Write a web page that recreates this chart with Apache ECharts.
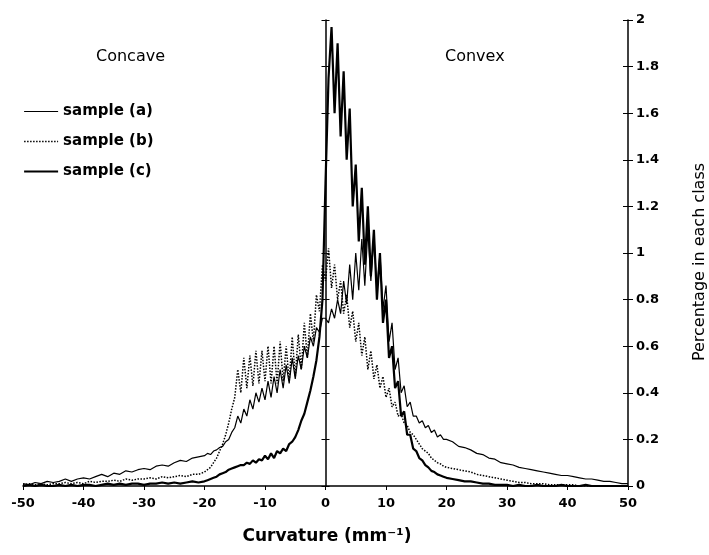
<!DOCTYPE html>
<html>
<head>
<meta charset="utf-8">
<script src="https://cdn.jsdelivr.net/npm/echarts@6/dist/echarts.min.js"></script>
<style>
  html, body { margin: 0; padding: 0; background: #fff; }
  #chart { width: 709px; height: 555px; }
</style>
</head>
<body>
<div id="chart"></div>
<script>
// curvature classes (mm^-1)
const curvature = [
  -50, -49, -48, -47, -46, -45, -44, -43, -42, -41,
  -40, -39, -38, -37, -36, -35, -34, -33, -32, -31,
  -30, -29, -28, -27, -26, -25, -24, -23, -22, -21,
  -20, -19.5, -19, -18.5, -18, -17.5, -17, -16.5, -16, -15.5,
  -15, -14.5, -14, -13.5, -13, -12.5, -12, -11.5, -11, -10.5,
  -10, -9.5, -9, -8.5, -8, -7.5, -7, -6.5, -6, -5.5,
  -5, -4.5, -4, -3.5, -3, -2.5, -2, -1.5, -1, -0.5,
  0, 0.5, 1, 1.5, 2, 2.5, 3, 3.5, 4, 4.5,
  5, 5.5, 6, 6.5, 7, 7.5, 8, 8.5, 9, 9.5,
  10, 10.5, 11, 11.5, 12, 12.5, 13, 13.5, 14, 14.5,
  15, 15.5, 16, 16.5, 17, 17.5, 18, 18.5, 19, 19.5,
  20,
  21, 22, 23, 24, 25, 26, 27, 28, 29, 30,
  31, 32, 33, 34, 35, 36, 37, 38, 39, 40,
  41, 42, 43, 44, 45, 46, 47, 48, 49, 50
];

// percentage in each class
const sampleA = [
  0.01, 0.005, 0.015, 0.01, 0.02, 0.015, 0.02, 0.03, 0.02, 0.03,
  0.035, 0.03, 0.04, 0.05, 0.04, 0.055, 0.05, 0.065, 0.06, 0.07,
  0.075, 0.07, 0.085, 0.09, 0.085, 0.1, 0.11, 0.105, 0.12, 0.125,
  0.13, 0.14, 0.135, 0.15, 0.155, 0.165, 0.17, 0.19, 0.2, 0.23,
  0.25, 0.3, 0.27, 0.33, 0.3, 0.37, 0.33, 0.4, 0.36, 0.42,
  0.37, 0.45, 0.38, 0.47, 0.4, 0.5, 0.42, 0.52, 0.44, 0.55,
  0.46, 0.56, 0.5, 0.6, 0.55, 0.64, 0.6, 0.68, 0.66, 0.72,
  0.72, 0.7, 0.76, 0.72, 0.8, 0.74, 0.88, 0.78, 0.95, 0.8,
  1.0, 0.84, 1.06, 0.86, 1.1, 0.88, 1.08, 0.84, 1.0, 0.76,
  0.86, 0.62, 0.7, 0.5, 0.55, 0.4, 0.43, 0.34, 0.36, 0.3,
  0.3, 0.27, 0.28, 0.25, 0.26, 0.23, 0.24, 0.21, 0.22, 0.2,
  0.2,
  0.19, 0.17, 0.165, 0.155, 0.14, 0.135, 0.12, 0.115, 0.1, 0.095,
  0.09, 0.08, 0.075, 0.07, 0.065, 0.06, 0.055, 0.05, 0.045, 0.045,
  0.04, 0.035, 0.03, 0.03, 0.025, 0.02, 0.02, 0.015, 0.01, 0.01
];

const sampleB = [
  0.005, 0.01, 0.005, 0.01, 0.005, 0.01, 0.01, 0.015, 0.01, 0.015,
  0.01, 0.02, 0.015, 0.02, 0.02, 0.025, 0.02, 0.03, 0.025, 0.03,
  0.03, 0.035, 0.03, 0.04, 0.035, 0.04, 0.045, 0.04, 0.05, 0.05,
  0.06, 0.07, 0.08, 0.1, 0.12, 0.15, 0.18, 0.22, 0.27, 0.33,
  0.38, 0.5, 0.4, 0.55, 0.42, 0.56, 0.43, 0.58, 0.44, 0.58,
  0.45, 0.6, 0.44, 0.6, 0.44, 0.62, 0.45, 0.6, 0.45, 0.64,
  0.47, 0.65, 0.5, 0.7, 0.55, 0.74, 0.62, 0.82, 0.75, 0.95,
  0.88, 1.02, 0.85, 0.95, 0.8, 0.88, 0.74, 0.82, 0.68, 0.75,
  0.62, 0.7, 0.56, 0.64, 0.5, 0.58, 0.46, 0.52, 0.42, 0.47,
  0.38, 0.42, 0.34, 0.36, 0.3, 0.31, 0.27, 0.26, 0.23, 0.22,
  0.2, 0.18, 0.16, 0.15, 0.14, 0.12, 0.11, 0.1, 0.095, 0.085,
  0.08,
  0.075, 0.07, 0.065, 0.06, 0.05, 0.045, 0.04, 0.035, 0.03, 0.025,
  0.02, 0.015, 0.015, 0.01, 0.01, 0.01, 0.005, 0.005, 0.005, 0.005,
  0.005, 0, 0, 0, 0, 0, 0, 0, 0, 0
];

const sampleC = [
  0, 0.005, 0, 0.005, 0, 0, 0.005, 0, 0.005, 0,
  0.005, 0.005, 0, 0.005, 0.01, 0.005, 0.01, 0.005, 0.01, 0.01,
  0.005, 0.01, 0.01, 0.015, 0.01, 0.015, 0.01, 0.015, 0.02, 0.015,
  0.02, 0.025, 0.03, 0.035, 0.04, 0.05, 0.055, 0.06, 0.07, 0.075,
  0.08, 0.085, 0.09, 0.09, 0.1, 0.095, 0.11, 0.1, 0.115, 0.11,
  0.13, 0.115, 0.14, 0.12, 0.15, 0.14, 0.16, 0.15, 0.18, 0.19,
  0.21, 0.24, 0.28, 0.31, 0.36, 0.41, 0.47, 0.54, 0.64, 0.8,
  1.3, 1.75, 1.97, 1.6, 1.9, 1.5, 1.78, 1.4, 1.62, 1.2,
  1.38, 1.05, 1.28, 0.95, 1.2, 0.9, 1.1, 0.8, 1.0, 0.7,
  0.8, 0.55, 0.6, 0.42, 0.45, 0.3, 0.32, 0.22, 0.22, 0.16,
  0.15, 0.12, 0.11, 0.09, 0.08, 0.065, 0.06, 0.05, 0.045, 0.04,
  0.035,
  0.03, 0.025, 0.02, 0.02, 0.015, 0.01, 0.01, 0.005, 0.005, 0.005,
  0, 0.005, 0, 0, 0.005, 0, 0, 0, 0.005, 0,
  0, 0, 0.005, 0, 0, 0, 0, 0, 0, 0
];

const seriesNames = ["sample (a)", "sample (b)", "sample (c)"];

const fontFamily = "DejaVu Sans";
const black = "#000";

const lineStyles = [
  { color: black, width: 1.2 },
  { color: black, width: 1.5, type: "dotted" },
  { color: black, width: 2.2 },
];

const pairs = (vals) => curvature.map((x, i) => [x, vals[i]]);

const myChart = echarts.init(document.getElementById("chart"));

const baseY = {
  type: "value",
  min: 0,
  max: 2,
  interval: 0.2,
  splitLine: { show: false },
};
const baseX = {
  type: "value",
  min: -50,
  max: 50,
  interval: 10,
  splitLine: { show: false },
};

const option = {
  animation: false,
  backgroundColor: "#fff",
  grid: { left: 23, right: 81, top: 20, bottom: 69 },
  legend: {
    data: seriesNames.map((name, i) => ({ name: name, lineStyle: lineStyles[i] })),
    orient: "vertical",
    left: 18,
    top: 99,
    itemWidth: 34,
    itemHeight: 14,
    itemGap: 15,
    itemStyle: { opacity: 0 },
    textStyle: {
      color: black,
      fontFamily: fontFamily,
      fontWeight: "bold",
      fontSize: 15,
      lineHeight: 14,
    },
  },
  xAxis: [
    {
      ...baseX,
      axisLine: { lineStyle: { color: black, width: 1.5 } },
      axisTick: { length: 4, lineStyle: { color: black } },
      axisLabel: {
        color: black,
        fontFamily: fontFamily,
        fontWeight: "bold",
        fontSize: 13,
        margin: 11,
      },
    },
    {
      ...baseX,
      axisLine: { show: false },
      axisTick: { inside: true, length: 4, lineStyle: { color: black } },
      axisLabel: { show: false },
    },
  ],
  yAxis: [
    {
      ...baseY,
      position: "right",
      axisLine: { show: true, onZero: false, lineStyle: { color: black, width: 1.5 } },
      axisTick: { show: true, length: 5, lineStyle: { color: black } },
      axisLabel: {
        color: black,
        fontFamily: fontFamily,
        fontWeight: "bold",
        fontSize: 13,
        margin: 8,
      },
    },
    {
      ...baseY,
      position: "right",
      axisLine: { show: false, onZero: false },
      axisTick: { show: true, inside: true, length: 5, lineStyle: { color: black } },
      axisLabel: { show: false },
    },
    {
      ...baseY,
      position: "left",
      axisLine: { show: true, onZero: true, lineStyle: { color: black, width: 1.5 } },
      axisTick: { show: true, length: 4, lineStyle: { color: black } },
      axisLabel: { show: false },
    },
    {
      ...baseY,
      position: "left",
      axisLine: { show: false, onZero: true },
      axisTick: { show: true, inside: true, length: 4, lineStyle: { color: black } },
      axisLabel: { show: false },
    },
  ],
  graphic: [
    {
      type: "text",
      left: 130 - 34,
      top: 49,
      style: { text: "Concave", fill: black, font: "16px " + fontFamily },
    },
    {
      type: "text",
      left: 477 - 32,
      top: 49,
      style: { text: "Convex", fill: black, font: "16px " + fontFamily },
    },
    {
      type: "text",
      x: 327,
      y: 537,
      style: {
        text: "Curvature (mm\u207B\u00B9)",
        fill: black,
        font: "bold 17px " + fontFamily,
        align: "center",
        verticalAlign: "middle",
      },
    },
    {
      type: "text",
      x: 700,
      y: 262,
      rotation: Math.PI / 2,
      style: {
        text: "Percentage in each class",
        fill: black,
        font: "16px " + fontFamily,
        align: "center",
        verticalAlign: "middle",
      },
    },
  ],
  series: seriesNames.map((name, i) => ({
    name: name,
    type: "line",
    symbol: "none",
    color: black,
    lineStyle: lineStyles[i],
    data: pairs([sampleA, sampleB, sampleC][i]),
  })),
};

myChart.setOption(option);
</script>
</body>
</html>
